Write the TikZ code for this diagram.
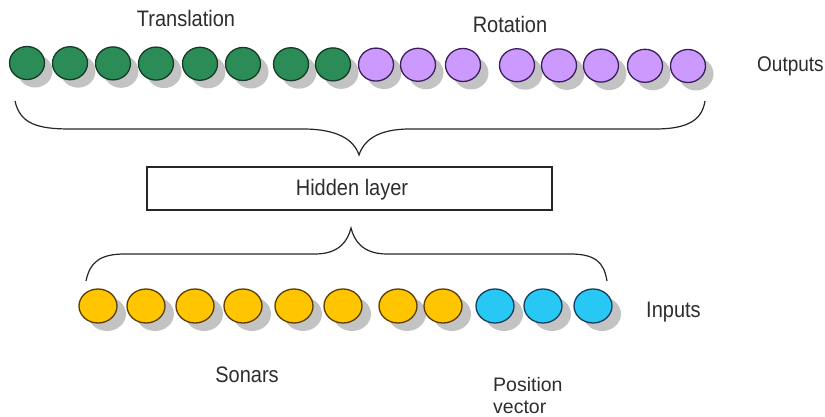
\documentclass[tikz,border=0pt]{standalone}
\usepackage{fontspec}
\setmainfont{Liberation Sans}
\usetikzlibrary{shapes.geometric}
\definecolor{gfill}{RGB}{44,140,88}
\definecolor{gdraw}{RGB}{20,60,35}
\definecolor{pfill}{RGB}{204,153,255}
\definecolor{pdraw}{RGB}{60,30,90}
\definecolor{yfill}{RGB}{255,198,0}
\definecolor{ydraw}{RGB}{90,60,0}
\definecolor{cfill}{RGB}{40,200,245}
\definecolor{cdraw}{RGB}{20,60,90}
\definecolor{shade}{RGB}{195,195,195}
\definecolor{txt}{RGB}{45,45,45}
\newcommand{\talltext}[1]{\scalebox{1}[1.12]{#1}}
\begin{document}
\begin{tikzpicture}[x=1pt,y=-1pt,
  lbl/.style={text=txt,font=\fontsize{20}{20}\selectfont,inner sep=0},
  topdot/.style={ellipse,minimum width=35,minimum height=33,inner sep=0,line width=1.3},
  botdot/.style={ellipse,minimum width=38,minimum height=34,inner sep=0,line width=1.3},
  shadowtop/.style={ellipse,minimum width=35,minimum height=33,inner sep=0,fill=shade},
  shadowbot/.style={ellipse,minimum width=38,minimum height=34,inner sep=0,fill=shade},
  bracestyle/.style={line width=1.2,draw=black!85},
  boxstyle/.style={draw=black!85,line width=1.2,minimum width=405,minimum height=43,inner sep=0}]
\useasboundingbox (0,0) rectangle (825,417);
% shadows
\foreach \x [count=\i] in {27,70,113,156,200,243,291,333,376,418,463,517,559,601,645,688}{
  \pgfmathsetmacro{\yy}{63+(\x-27)*3/661}
  \node[shadowtop] (ts\i) at (\x+8,\yy+8) {};
}
\foreach \x [count=\i] in {98,146,195,243,294,343,398,443,495,543,593}{
  \node[shadowbot] (bs\i) at (\x+9,306+8) {};
}
% top circles
\foreach \x [count=\i] in {27,70,113,156,200,243,291,333}{
  \pgfmathsetmacro{\yy}{63+(\x-27)*3/661}
  \node[topdot,fill=gfill,draw=gdraw] (g\i) at (\x,\yy) {};
}
\foreach \x [count=\i] in {376,418,463,517,559,601,645,688}{
  \pgfmathsetmacro{\yy}{63+(\x-27)*3/661}
  \node[topdot,fill=pfill,draw=pdraw] (p\i) at (\x,\yy) {};
}
% bottom circles
\foreach \x [count=\i] in {98,146,195,243,294,343,398,443}{
  \node[botdot,fill=yfill,draw=ydraw] (y\i) at (\x,306) {};
}
\foreach \x [count=\i] in {495,543,593}{
  \node[botdot,fill=cfill,draw=cdraw] (c\i) at (\x,306) {};
}
% labels
\node[lbl,anchor=base] (trans) at (186,27) {\talltext{Translation}};
\node[lbl,anchor=base] (rot) at (510,33) {\talltext{Rotation}};
\node[lbl,anchor=base west,font=\fontsize{19}{19}\selectfont] (outs) at (757,72) {\talltext{Outputs}};
\node[lbl,anchor=base west] (ins) at (646,317) {\talltext{Inputs}};
\node[lbl,anchor=base] (son) at (247,382) {\talltext{Sonars}};
\node[lbl,anchor=base west,font=\fontsize{19.5}{19.5}\selectfont] (pos) at (493,391) {Position};
\node[lbl,anchor=base west,font=\fontsize{19.5}{19.5}\selectfont] (vec) at (493,413.5) {vector};
% hidden layer box
\node[boxstyle] (hid) at (349.5,188.5) {};
\node[lbl,anchor=base] (hidtxt) at (352,196) {\talltext{Hidden layer}};
% braces
\coordinate (tt) at (359,155);
\coordinate (bt) at (351,228);
\draw[bracestyle] (15,101) .. controls (20,124) and (38,129) .. (70,129) -- (303,129)
  .. controls (338,129) and (354,140) .. (tt)
  .. controls (364,140) and (378,129) .. (410,129) -- (655,129)
  .. controls (688,129) and (702,120) .. (705,101);
\draw[bracestyle] (86,281) .. controls (90,262) and (100,254) .. (125,254) -- (315,254)
  .. controls (340,254) and (348,240) .. (bt)
  .. controls (354,240) and (362,254) .. (387,254) -- (570,254)
  .. controls (595,254) and (604,262) .. (607,281);
\end{tikzpicture}
\end{document}
